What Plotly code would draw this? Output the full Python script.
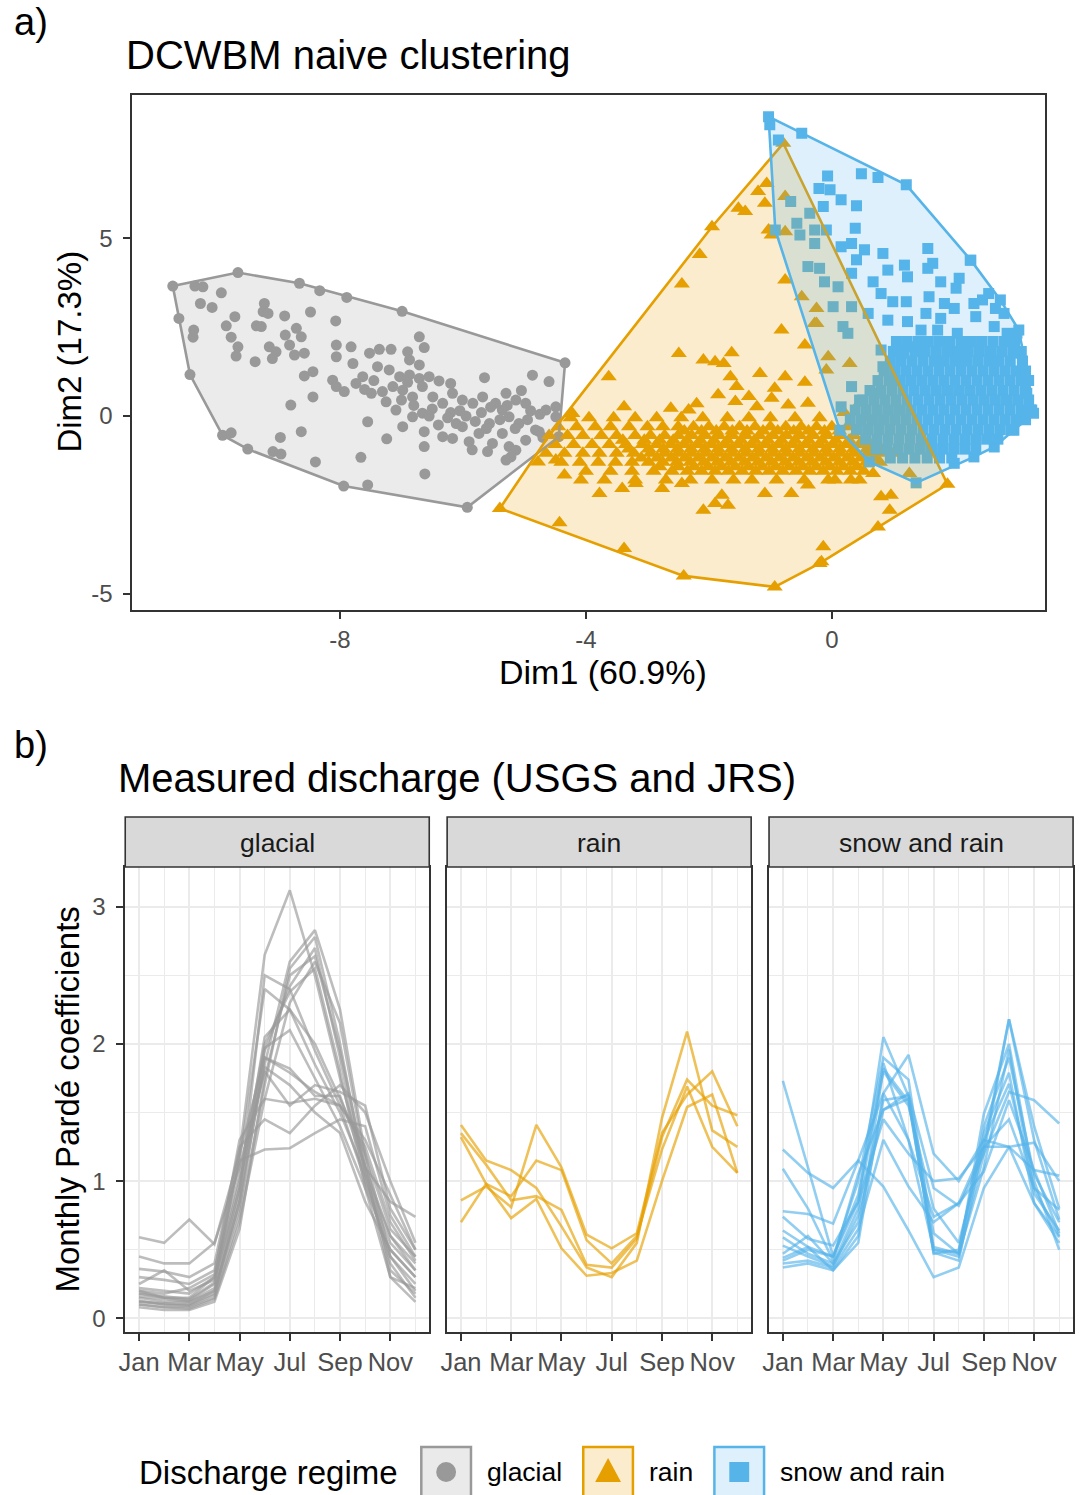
import plotly.graph_objects as go

W, H = 1082, 1495
def px(x): return x / W
def py(y): return 1 - y / H

FONT = "Liberation Sans, Arial, Helvetica, sans-serif"
GREY, ORANGE, BLUE = "#999999", "#E69F00", "#56B4E9"

# ---------------- Panel a data (PCA coordinates) ----------------
glacial_pts = [
    (-10.36,3.66),(-10.23,3.64),(-9.93,3.47),(-10.27,3.17),(-10.08,3.06),(-10.38,2.42),(-10.39,2.22),
    (-9.71,2.80),(-9.85,2.54),(-9.77,2.22),(-9.66,1.95),(-9.69,1.69),(-9.38,1.53),(-9.36,2.54),(-9.28,2.52),
    (-9.23,3.17),(-9.25,2.94),(-9.17,2.89),(-8.90,2.82),(-8.89,2.28),(-8.71,2.47),(-8.63,2.23),(-8.82,2.00),
    (-8.74,1.72),(-8.58,1.77),(-9.15,1.95),(-9.04,1.81),(-9.10,1.62),(-8.48,2.93),(-8.07,2.68),(-8.06,2.00),
    (-8.06,1.67),(-7.82,1.95),(-7.79,1.48),(-7.52,1.77),(-7.36,1.88),(-7.17,1.88),(-6.90,1.81),(-6.71,2.23),
    (-6.63,1.93),(-6.87,1.58),(-6.71,1.44),(-7.39,1.39),(-7.20,1.30),(-7.03,1.11),(-6.87,1.16),(-6.71,1.06),
    (-6.55,1.11),(-6.39,0.99),(-6.20,0.92),(-5.65,1.08),(-4.87,1.15),(-4.60,0.97),(-8.12,1.01),(-8.06,0.83),
    (-7.93,0.69),(-7.74,0.92),(-7.63,1.11),(-7.49,0.64),(-7.31,0.69),(-7.14,0.83),(-6.98,0.73),(-6.82,0.54),
    (-6.66,0.83),(-6.49,0.54),(-6.33,0.36),(-6.17,0.64),(-6.01,0.45),(-5.84,0.36),(-5.68,0.54),(-5.47,0.36),
    (-5.30,0.64),(-5.14,0.45),(-4.98,0.36),(-4.76,-0.44),(-4.65,0.17),(-4.49,0.26),(-8.44,1.25),(-8.58,1.13),
    (-8.44,0.54),(-8.80,0.31),(-8.63,-0.44),(-8.97,-0.60),(-9.09,-1.00),(-8.96,-1.07),(-8.40,-1.29),(-7.66,-1.16),
    (-7.55,-0.16),(-7.24,-0.64),(-6.63,-0.44),(-6.63,-0.86),(-6.62,-1.63),(-7.09,0.17),(-6.98,-0.30),(-6.82,-0.02),
    (-6.66,0.08),(-6.33,-0.58),(-6.17,-0.63),(-6.11,-0.21),(-6.01,-0.30),(-5.90,-0.72),(-5.74,-0.49),(-5.57,-0.21),
    (-5.52,-0.77),(-5.36,-0.49),(-5.25,-0.86),(-5.14,-0.96),(-4.98,-0.68),(-5.30,-1.24),(-5.22,-1.15),(-5.36,0.17),
    (-5.25,-0.02),(-5.09,-0.21),(-4.82,-0.39),(-4.49,-0.02),(-6.50,0.20),(-6.20,0.10),(-5.95,0.00),(-5.70,0.10),
    (-5.55,0.25),(-5.40,-0.10),(-5.15,-0.35),(-4.95,-0.10),(-4.75,0.05),(-5.80,-0.15),(-6.40,-0.25),(-6.80,0.30),
    (-7.00,0.45),(-6.90,0.95),(-7.60,0.75),(-5.05,0.72),(-4.70,-0.60),(-5.60,-1.00),(-5.85,-0.95),
    (-6.05,0.15),(-5.62,-0.35),(-5.28,0.30),(-4.90,0.15),(-6.25,-0.05),(-6.55,0.00),(-7.25,0.40),(-7.45,1.00),
    (-10.72,3.66),(-9.66,4.04),(-8.66,3.74),(-8.33,3.53),(-7.89,3.34),(-6.99,2.95),(-4.34,1.50),(-4.44,-0.58),
    (-5.93,-2.57),(-7.55,-1.94),(-7.94,-1.97),(-9.50,-0.93),(-9.91,-0.54),(-9.77,-0.47),(-10.44,1.17),(-10.62,2.75),
]

rain_pts = [
    (-1.95,5.33),(-2.15,4.55),(-2.44,3.72),(-3.63,1.11),(-2.49,1.76),(-2.09,1.58),(-1.90,1.53),(-1.63,1.78),
    (-1.76,1.48),(-1.65,1.11),(-1.55,0.83),(-1.17,1.20),(-0.76,1.11),(-0.44,0.95),(-0.93,0.78),(-0.82,2.42),
    (-0.76,3.83),(-0.49,3.36),(-0.25,3.03),(-0.25,2.61),(-0.44,2.00),(-0.09,1.30),(0.29,1.48),(0.45,0.36),
    (-0.39,0.36),(-0.71,0.31),(-1.22,0.26),(-1.57,0.41),(-0.98,0.50),(-1.41,5.76),(-1.09,5.99),(-1.20,6.32),
    (-1.06,6.55),(-0.76,6.18),(-0.98,5.10),(-0.76,5.19),(-2.62,0.22),(-2.33,0.17),(-3.38,0.26),(-4.22,0.07),
    (-4.78,-1.29),(-4.49,-1.24),(-4.35,-1.66),(-4.08,-1.80),(-3.78,-2.18),(-3.41,-2.04),(-3.19,-1.90),(-2.76,-2.04),
    (-2.44,-1.90),(-2.09,-2.65),(-1.90,-2.46),(-1.69,-2.51),(-1.79,-2.23),(-1.09,-2.18),(-0.66,-2.18),(-0.39,-1.94),
    (-0.06,-1.80),(0.31,-1.80),(0.67,-1.62),(0.80,-2.27),(0.96,-2.23),(-0.14,-3.68),(1.26,-1.62),(-1.52,5.85),
    (-1.03,5.24),(-0.06,1.67),(-0.28,2.61),(-1.85,0.60),(-2.20,0.35),(-1.35,0.55),(0.20,0.10),(0.55,-0.05),
    (-5.40,-2.60),(-4.43,-3.00),(-3.38,-3.73),(-2.41,-4.50),(-0.93,-4.81),(-0.20,-4.15),(0.75,-3.12),(0.94,-2.65),
    (1.88,-1.92),(-0.79,7.68),(-0.17,-4.10),
]
rain_band_y = [-0.05, -0.30, -0.55, -0.80, -1.05, -1.30, -1.55, -1.80,
               -0.42, -0.68, -0.93, -1.18, -1.43]
rain_band_x = [
    [-4.25,-3.95,-3.55,-3.20,-2.85,-2.45,-2.10,-1.70,-1.35,-1.00,-0.60,-0.20],
    [-4.45,-4.15,-3.85,-3.60,-3.30,-3.00,-2.75,-2.50,-2.25,-2.00,-1.75,-1.50,-1.25,-1.00,-0.75,-0.50,-0.25,0.00,0.25],
    [-4.60,-4.30,-4.05,-3.75,-3.50,-3.20,-2.95,-2.72,-2.50,-2.28,-2.06,-1.84,-1.62,-1.40,-1.18,-0.96,-0.74,-0.52,-0.30,-0.08,0.14,0.36],
    [-4.50,-4.20,-3.90,-3.62,-3.35,-3.08,-2.85,-2.62,-2.40,-2.18,-1.96,-1.74,-1.52,-1.30,-1.08,-0.86,-0.64,-0.42,-0.20,0.02,0.24,0.46,0.66],
    [-4.65,-4.35,-4.05,-3.78,-3.50,-3.22,-2.95,-2.72,-2.50,-2.28,-2.06,-1.84,-1.62,-1.40,-1.18,-0.96,-0.74,-0.52,-0.30,-0.08,0.14,0.36,0.58,0.80,1.00],
    [-4.40,-4.10,-3.80,-3.52,-3.25,-2.98,-2.75,-2.52,-2.30,-2.08,-1.86,-1.64,-1.42,-1.20,-0.98,-0.76,-0.54,-0.32,-0.10,0.12,0.34,0.56,0.78],
    [-4.00,-3.60,-3.25,-2.90,-2.60,-2.35,-2.12,-1.90,-1.68,-1.46,-1.24,-1.02,-0.80,-0.58,-0.36,-0.14,0.08,0.30,0.52],
    [-3.70,-3.20,-2.70,-2.30,-1.95,-1.60,-1.30,-0.90,-0.45,0.05,0.45],
    [-2.40,-2.12,-1.88,-1.62,-1.38,-1.12,-0.88,-0.62,-0.38,-0.12,0.12],
    [-3.40,-3.05,-2.80,-2.58,-2.36,-2.14,-1.92,-1.70,-1.48,-1.26,-1.04,-0.82,-0.60,-0.38,-0.16,0.06,0.28,0.50],
    [-3.30,-2.98,-2.74,-2.51,-2.29,-2.07,-1.85,-1.63,-1.41,-1.19,-0.97,-0.75,-0.53,-0.31,-0.09,0.13,0.35,0.57,0.78],
    [-3.10,-2.84,-2.61,-2.39,-2.17,-1.95,-1.73,-1.51,-1.29,-1.07,-0.85,-0.63,-0.41,-0.19,0.03,0.25,0.47,0.69],
    [-2.80,-2.50,-2.24,-2.01,-1.79,-1.57,-1.35,-1.13,-0.91,-0.69,-0.47,-0.25,-0.03,0.19,0.41],
]

snow_rain_pts = [
    (-0.87,7.77),(-0.07,6.76),(-0.21,6.41),(-0.03,6.37),(0.15,6.09),(0.40,5.92),(0.48,6.82),(0.75,6.72),
    (-0.67,6.04),(-0.36,5.71),(-0.14,5.90),(-0.57,5.43),(-0.52,5.10),(-0.28,5.24),(-0.28,4.86),(-0.09,5.24),
    (0.38,5.29),(0.15,4.77),(0.32,4.86),(0.53,4.68),(0.83,4.58),(-0.39,4.21),(-0.20,4.16),(-0.12,3.78),
    (0.10,3.64),(0.32,4.02),(0.40,4.40),(0.67,3.78),(0.80,3.45),(0.91,4.11),(1.18,4.25),(1.23,3.92),
    (1.56,4.72),(1.56,4.16),(1.64,4.30),(1.77,3.78),(2.07,3.88),(2.02,3.60),(2.26,4.39),(0.99,3.22),
    (1.21,3.22),(1.58,3.36),(1.83,3.17),(1.99,3.03),(2.31,3.17),(2.45,3.27),(2.55,3.45),(2.66,3.03),
    (0.02,3.08),(0.32,3.08),(0.18,2.52),(0.26,2.33),(0.59,2.89),(0.91,2.70),(1.23,2.66),(1.53,2.89),
    (1.77,2.75),(2.04,2.33),(2.34,2.80),(2.64,2.52),(2.85,2.33),(2.91,2.14),(3.01,2.33),(0.80,1.86),
    (1.13,1.76),(1.34,1.95),(1.45,2.42),(1.72,2.42),(0.83,1.39),(0.32,0.83),(0.15,0.26),(0.45,0.45),
    (0.69,0.64),(2.74,3.27),(2.80,2.89),(3.07,1.77),(3.12,1.20),(3.17,0.64),(3.23,0.17),(2.96,-0.40),
    (2.64,-0.87),(2.31,-1.15),(-1.01,8.20),
    (-0.49,7.96),(1.21,6.51),(2.25,4.39),(3.04,2.42),(3.28,0.08),(1.99,-1.33),(1.37,-1.88),(0.61,-1.29),
    (0.13,-0.40),(-0.92,5.24),(-1.03,8.43),
]
snow_band_y = [2.10, 1.82, 1.55, 1.27, 1.00, 0.72, 0.45, 0.17, -0.10, -0.38, -0.65, -0.93, -1.18]
snow_band_x = [
    [1.05,1.22,1.40,1.57,1.75,1.92,2.10,2.27,2.44,2.62,2.80,2.97],
    [1.00,1.17,1.35,1.52,1.70,1.88,2.05,2.22,2.40,2.58,2.76,2.94,3.08],
    [0.95,1.12,1.30,1.48,1.66,1.83,2.01,2.19,2.37,2.55,2.72,2.90,3.10],
    [0.85,1.02,1.20,1.38,1.56,1.74,1.92,2.10,2.28,2.46,2.64,2.82,3.00,3.15],
    [0.75,0.93,1.10,1.28,1.46,1.64,1.82,2.00,2.18,2.36,2.54,2.72,2.90,3.08,3.20],
    [0.62,0.80,0.98,1.16,1.34,1.52,1.70,1.88,2.06,2.24,2.42,2.60,2.78,2.96,3.14],
    [0.50,0.68,0.86,1.04,1.22,1.40,1.58,1.76,1.94,2.12,2.30,2.48,2.66,2.84,3.02,3.20],
    [0.38,0.56,0.74,0.92,1.10,1.28,1.46,1.64,1.82,2.00,2.18,2.36,2.54,2.72,2.90,3.08,3.25],
    [0.30,0.48,0.66,0.84,1.02,1.20,1.38,1.56,1.74,1.92,2.10,2.28,2.46,2.64,2.82,3.00,3.15],
    [0.40,0.58,0.76,0.94,1.12,1.30,1.48,1.66,1.84,2.02,2.20,2.38,2.56,2.74,2.92],
    [0.55,0.73,0.91,1.09,1.27,1.45,1.63,1.81,1.99,2.17,2.35,2.53,2.70],
    [0.72,0.90,1.08,1.26,1.44,1.62,1.80,1.98,2.16,2.34],
    [0.95,1.15,1.35,1.55,1.75,1.95],
]

# ---------------- Panel b data (monthly Pardé coefficients) ----------------
months = list(range(1, 13))
month_ticks = [1, 3, 5, 7, 9, 11]
month_labels = ["Jan", "Mar", "May", "Jul", "Sep", "Nov"]

glacial_lines = [
    [0.18,0.15,0.13,0.25,1.20,2.65,3.12,2.50,1.75,1.10,0.60,0.35],
    [0.12,0.10,0.10,0.20,0.85,1.85,2.60,2.83,2.25,1.20,0.45,0.20],
    [0.10,0.08,0.08,0.15,0.75,1.70,2.55,2.78,2.00,1.05,0.40,0.15],
    [0.15,0.12,0.12,0.22,0.95,1.95,2.42,2.70,1.90,1.00,0.45,0.25],
    [0.20,0.15,0.15,0.30,1.05,2.00,2.38,2.55,1.80,0.95,0.50,0.30],
    [0.08,0.06,0.06,0.12,0.65,1.75,2.50,2.64,1.95,1.10,0.30,0.12],
    [0.13,0.10,0.09,0.17,0.90,2.50,2.40,1.95,1.55,1.00,0.55,0.35],
    [0.22,0.20,0.18,0.30,1.15,2.40,2.25,1.85,1.50,1.05,0.60,0.40],
    [0.59,0.55,0.72,0.54,1.20,1.90,1.82,1.62,1.62,1.10,0.85,0.74],
    [0.45,0.40,0.40,0.55,1.10,1.80,1.55,1.70,1.65,1.55,0.80,0.50],
    [0.36,0.34,0.30,0.40,1.25,1.45,1.35,1.55,1.70,1.50,1.00,0.55],
    [0.30,0.28,0.25,0.35,1.15,1.23,1.24,1.35,1.45,1.40,0.75,0.45],
    [0.20,0.18,0.22,0.32,1.30,1.60,1.57,1.60,1.55,1.25,0.70,0.42],
    [0.25,0.35,0.20,0.28,1.00,1.83,1.70,1.50,1.35,0.85,0.50,0.30],
    [0.18,0.16,0.14,0.26,0.95,2.05,2.25,2.00,1.60,1.20,0.65,0.45],
    [0.10,0.08,0.07,0.14,0.70,1.60,2.30,2.60,2.15,1.15,0.35,0.18],
    [0.16,0.14,0.12,0.20,0.80,1.90,1.79,1.65,1.55,1.30,0.90,0.50],
    [0.12,0.11,0.10,0.18,0.85,1.97,2.10,1.75,1.40,0.95,0.30,0.22],
]
rain_lines = [
    [1.41,1.15,1.08,0.95,0.67,0.37,0.30,0.55,1.46,2.09,1.37,1.25],
    [0.86,0.96,0.81,1.41,1.10,0.61,0.51,0.62,1.35,1.63,1.80,1.40],
    [0.70,0.98,0.89,1.15,1.08,0.57,0.40,0.60,1.23,1.69,1.25,1.06],
    [1.35,1.12,0.86,0.89,0.79,0.39,0.37,0.58,1.32,1.74,1.55,1.48],
    [1.32,0.98,0.73,0.87,0.51,0.31,0.33,0.42,1.00,1.54,1.63,1.06],
]
snow_rain_lines = [
    [1.73,1.10,0.45,0.90,1.80,1.55,0.80,0.55,1.25,2.18,1.40,0.80],
    [1.23,1.06,0.95,1.15,0.96,0.64,0.30,0.37,0.95,1.25,1.28,1.00],
    [1.09,0.80,0.42,1.05,1.52,1.64,0.95,0.82,1.20,1.65,1.59,1.42],
    [0.78,0.76,0.69,1.15,1.64,1.92,1.20,1.00,1.30,1.25,1.08,1.04],
    [0.74,0.58,0.53,0.85,2.05,1.62,0.62,0.47,1.49,2.00,1.00,0.50],
    [0.64,0.52,0.45,1.00,1.90,1.74,0.52,0.47,1.10,1.96,0.91,0.64],
    [0.59,0.47,0.40,0.80,1.86,1.30,0.50,0.45,1.20,2.18,1.30,0.72],
    [0.53,0.45,0.38,0.75,1.59,1.62,0.47,0.50,1.35,1.79,0.84,0.59],
    [0.47,0.60,0.40,0.70,1.52,1.60,0.48,0.42,1.30,1.71,0.95,0.79],
    [0.44,0.52,0.35,0.55,1.64,1.30,0.74,0.84,1.07,1.59,1.08,0.62],
    [0.40,0.42,0.37,0.65,1.30,0.96,0.70,0.84,1.25,1.25,0.84,0.55],
    [0.37,0.40,0.35,0.60,1.82,1.58,0.50,0.48,1.40,1.90,1.05,0.70],
    [0.42,0.50,0.45,0.85,1.45,1.20,1.00,1.02,1.25,1.45,0.95,0.60],
]

facet_names = ["glacial", "rain", "snow and rain"]

# ---------------- helpers ----------------
def convex_hull(points):
    pts = sorted(set(points))
    def cross(o, a, b):
        return (a[0]-o[0])*(b[1]-o[1]) - (a[1]-o[1])*(b[0]-o[0])
    lower = []
    for p in pts:
        while len(lower) >= 2 and cross(lower[-2], lower[-1], p) <= 0:
            lower.pop()
        lower.append(p)
    upper = []
    for p in reversed(pts):
        while len(upper) >= 2 and cross(upper[-2], upper[-1], p) <= 0:
            upper.pop()
        upper.append(p)
    return lower[:-1] + upper[:-1]

def band(ys, xs):
    out = []
    for y, row in zip(ys, xs):
        for x in row:
            out.append((x, y))
    return out

rain_all = rain_pts + band(rain_band_y, rain_band_x)
snow_all = snow_rain_pts + band(snow_band_y, snow_band_x)

fig = go.Figure()

groups = [
    (glacial_pts, GREY, "circle", 11, "rgba(153,153,153,0.2)"),
    (rain_all, ORANGE, "triangle-up", 14, "rgba(230,159,0,0.2)"),
    (snow_all, BLUE, "square", 11, "rgba(86,180,233,0.2)"),
]
for pts, col, sym, sz, _ in groups:
    fig.add_trace(go.Scatter(
        x=[p[0] for p in pts], y=[p[1] for p in pts], mode="markers",
        marker=dict(symbol=sym, size=sz, color=col, line=dict(width=0)),
        xaxis="x", yaxis="y", showlegend=False, hoverinfo="skip"))
for pts, col, sym, sz, fillc in groups:
    h = convex_hull(pts)
    hx = [p[0] for p in h] + [h[0][0]]
    hy = [p[1] for p in h] + [h[0][1]]
    fig.add_trace(go.Scatter(
        x=hx, y=hy, mode="lines", fill="toself", fillcolor=fillc,
        line=dict(color=col, width=2.6), xaxis="x", yaxis="y",
        showlegend=False, hoverinfo="skip"))

# Panel b lines
facet_data = [
    (glacial_lines, "rgba(153,153,153,0.65)"),
    (rain_lines, "rgba(230,159,0,0.65)"),
    (snow_rain_lines, "rgba(86,180,233,0.65)"),
]
for i, (lines, col) in enumerate(facet_data):
    xa = "x%d" % (i + 2)
    ya = "y%d" % (i + 2)
    for ln in lines:
        fig.add_trace(go.Scatter(
            x=months, y=ln, mode="lines", line=dict(color=col, width=2.6),
            xaxis=xa, yaxis=ya, showlegend=False, hoverinfo="skip"))

axis_line = dict(showline=True, mirror=True, linecolor="#333333", linewidth=1.6,
                 zeroline=False, ticks="outside", ticklen=7, tickwidth=1.6,
                 tickcolor="#333333")

layout = dict(
    width=W, height=H, margin=dict(l=0, r=0, t=0, b=0),
    paper_bgcolor="white", plot_bgcolor="white",
    font=dict(family=FONT, color="#000000"),
    xaxis=dict(domain=[px(126), px(1045)], range=[-11.38, 3.47],
               tickvals=[-8, -4, 0], ticktext=["-8", "-4", "0"], showgrid=False,
               tickfont=dict(size=24, color="#4D4D4D"), anchor="y", **axis_line),
    yaxis=dict(domain=[py(610), py(95)], range=[-5.46, 9.04],
               tickvals=[-5, 0, 5], ticktext=["-5", "0", "5"], showgrid=False,
               ticklabelstandoff=6,
               tickfont=dict(size=24, color="#4D4D4D"), anchor="x", **axis_line),
)

facet_x = [(119, 425), (443, 749), (767, 1073)]
for i, (x0, x1) in enumerate(facet_x):
    n = i + 2
    layout["xaxis%d" % n] = dict(
        domain=[px(x0), px(x1)], range=[0.45, 12.55], anchor="y%d" % n,
        tickvals=month_ticks, ticktext=month_labels,
        tickfont=dict(size=25.5, color="#4D4D4D"),
        showgrid=True, gridcolor="#EBEBEB", gridwidth=2.2,
        minor=dict(tickvals=[2, 4, 6, 8, 10, 12], showgrid=True, gridcolor="#EBEBEB", gridwidth=1.3, ticks=""),
        **axis_line)
    yd = dict(
        domain=[py(1332), py(867)], range=[-0.10, 3.29], anchor="x%d" % n,
        tickvals=[0, 1, 2, 3], showgrid=True, gridcolor="#EBEBEB", gridwidth=2.2,
        minor=dict(tickvals=[0.5, 1.5, 2.5], showgrid=True, gridcolor="#EBEBEB", gridwidth=1.3, ticks=""),
        tickfont=dict(size=24, color="#4D4D4D"), **axis_line)
    if i > 0:
        yd["showticklabels"] = False
        yd["ticks"] = ""
    else:
        yd["ticklabelstandoff"] = 6
    layout["yaxis%d" % n] = yd

fig.update_layout(**layout)

ann = []
def text(x, y, s, size, anchor="left", color="#000000", angle=0):
    ann.append(dict(x=px(x), y=py(y), xref="paper", yref="paper", text=s, showarrow=False,
                    xanchor=anchor, yanchor="middle", textangle=angle,
                    font=dict(size=size, color=color, family=FONT)))

text(5, 22, "a)", 38)
text(118, 55, "DCWBM naive clustering", 40)
text(600, 672, "Dim1 (60.9%)", 34, anchor="center")
text(62, 352, "Dim2 (17.3%)", 33, anchor="center", angle=-90)
text(5, 745, "b)", 38)
text(110, 778, "Measured discharge (USGS and JRS)", 40)
text(60, 1100, "Monthly Pardé coefficients", 33, anchor="center", angle=-90)

shapes = []
for (x0, x1), name in zip(facet_x, facet_names):
    shapes.append(dict(type="rect", xref="paper", yref="paper", x0=px(x0), x1=px(x1),
                       y0=py(867), y1=py(817), fillcolor="#D9D9D9",
                       line=dict(color="#333333", width=1.6), layer="above"))
    text((x0 + x1) / 2, 843, name, 26.5, anchor="center", color="#1A1A1A")

# Legend
text(131, 1472, "Discharge regime", 33)
legend_items = [
    (417, "#EAEAEA", GREY, "glacial"),
    (580, "#FAECCC", ORANGE, "rain"),
    (712, "#DDF0FB", BLUE, "snow and rain"),
]
for k, (x0, fillc, col, name) in enumerate(legend_items):
    shapes.append(dict(type="rect", xref="paper", yref="paper", x0=px(x0), x1=px(x0 + 50),
                       y0=py(1499), y1=py(1447), fillcolor=fillc, line=dict(color=col, width=2.5)))
    cx = x0 + 25
    if k == 0:
        shapes.append(dict(type="circle", xref="paper", yref="paper", x0=px(cx - 10), x1=px(cx + 10),
                           y0=py(1482), y1=py(1462), fillcolor=col, line=dict(width=0)))
    elif k == 1:
        path = "M %f %f L %f %f L %f %f Z" % (px(cx - 13), py(1482), px(cx + 13), py(1482), px(cx), py(1458))
        shapes.append(dict(type="path", xref="paper", yref="paper", path=path,
                           fillcolor=col, line=dict(width=0)))
    else:
        shapes.append(dict(type="rect", xref="paper", yref="paper", x0=px(cx - 10), x1=px(cx + 10),
                           y0=py(1482), y1=py(1462), fillcolor=col, line=dict(width=0)))
    text(x0 + 64, 1472, name, 26.5)

fig.update_layout(annotations=ann, shapes=shapes)
fig.write_html("out.html", config={"displayModeBar": False},
               post_script="document.body.style.margin='0';document.body.style.overflow='hidden';")
